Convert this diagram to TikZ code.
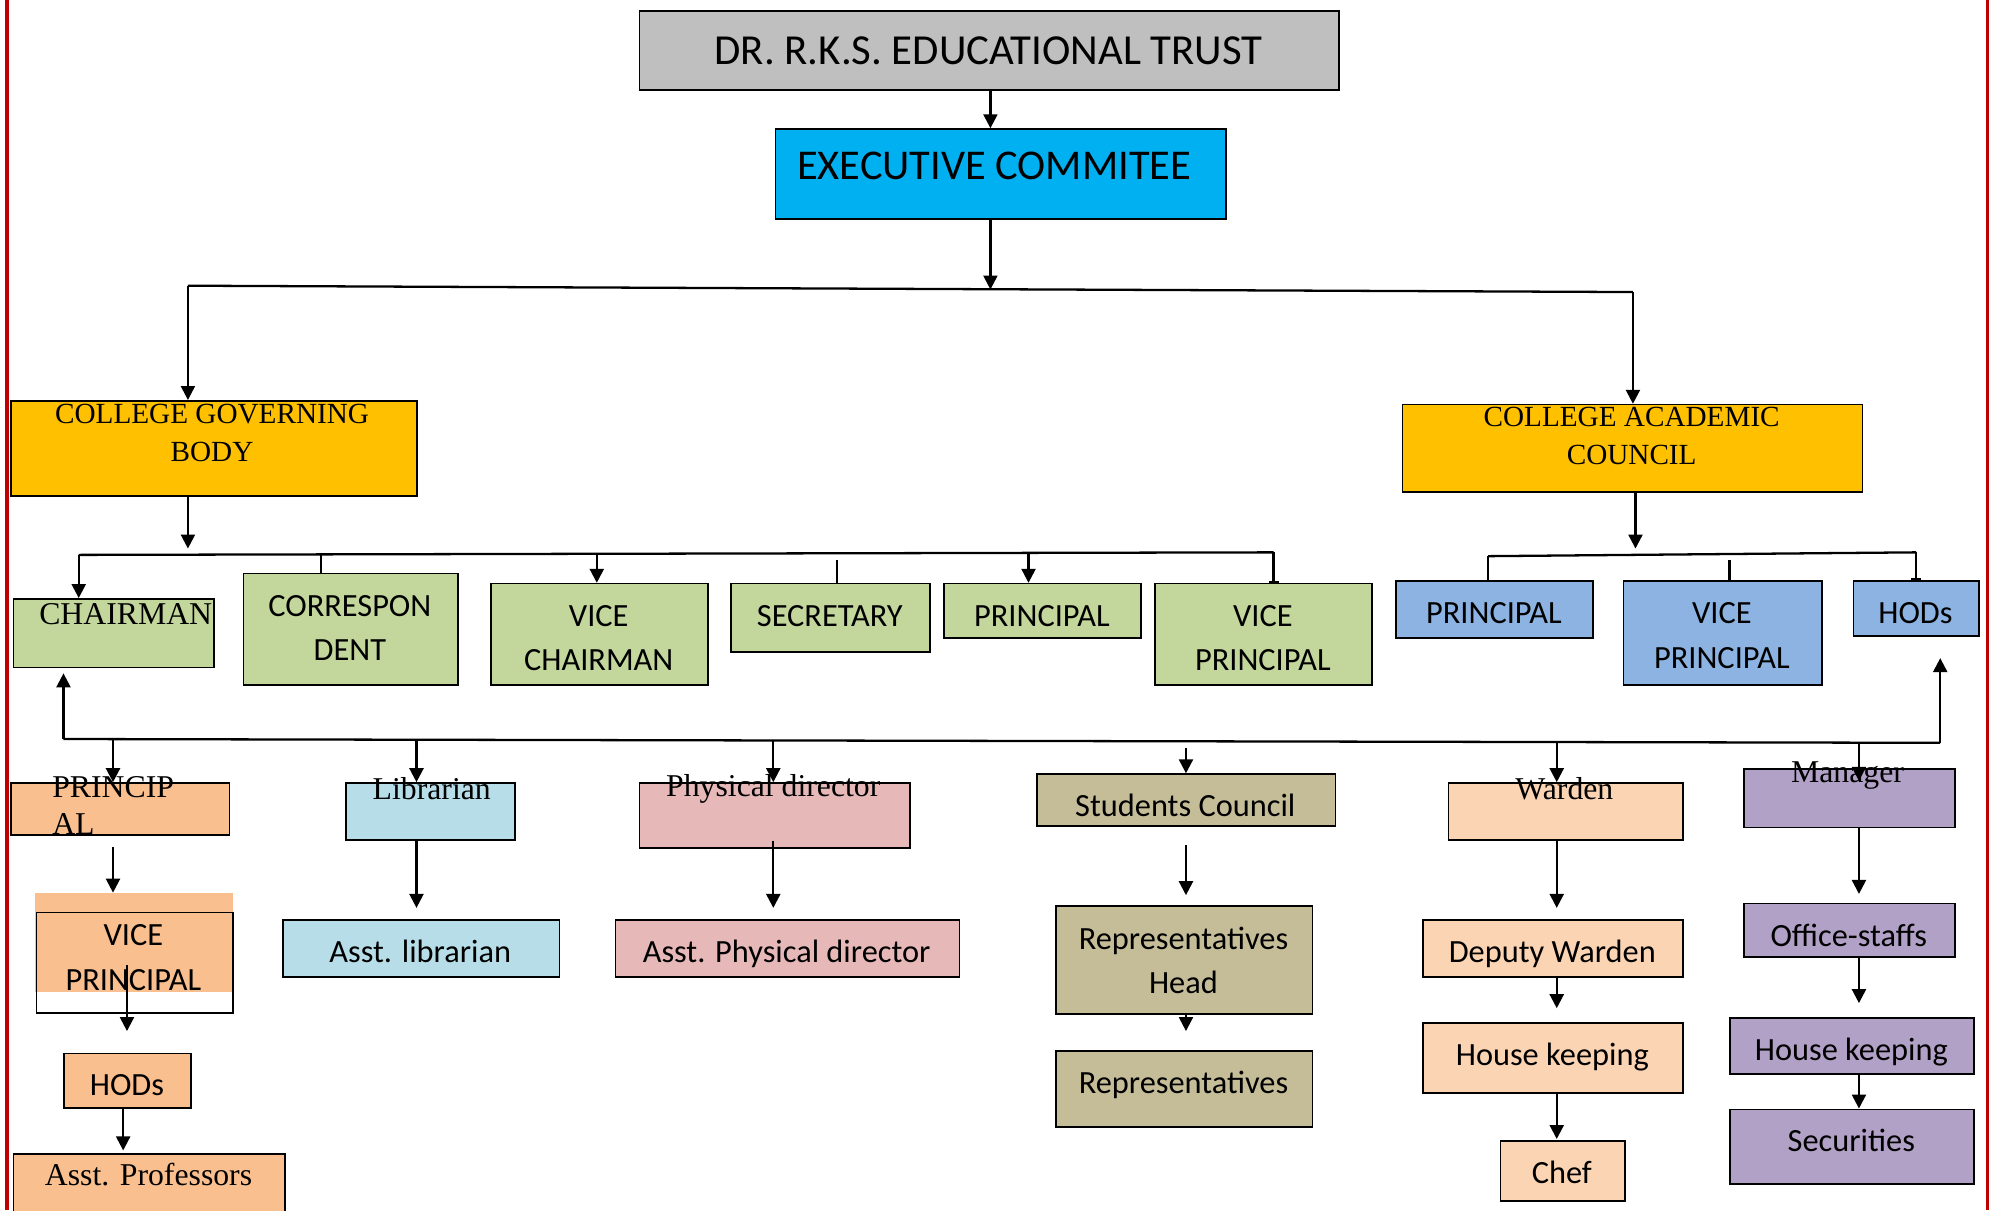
\documentclass[tikz,border=0pt]{standalone}
\usepackage{fontspec}
\setmainfont{Carlito}
\newfontfamily\tms{Liberation Serif}
\usetikzlibrary{arrows.meta}
\definecolor{cgray}{HTML}{BFBFBF}
\definecolor{ccyan}{HTML}{00B0F0}
\definecolor{cgold}{HTML}{FFC000}
\definecolor{cgreen}{HTML}{C3D69B}
\definecolor{cblue}{HTML}{8DB3E2}
\definecolor{corange}{HTML}{FABF8F}
\definecolor{clblue}{HTML}{B7DEE8}
\definecolor{cpink}{HTML}{E6B9B8}
\definecolor{ctan}{HTML}{C4BD97}
\definecolor{cpeach}{HTML}{FBD4B4}
\definecolor{cpurple}{HTML}{B2A1C7}
\definecolor{cred}{HTML}{C00000}
% box with one line of text near its top
\newcommand\bxone[7]{%
  \node[box, fill=#6, minimum width=#4pt, minimum height=#5pt] (#1) at (#2,#3) {};
  \node[txt] (#1t) at ({#2+#4/2},{#3+26}) {#7};}
% box with two lines of text
\newcommand\bxtwo[7]{%
  \node[box, fill=#6, minimum width=#4pt, minimum height=#5pt] (#1) at (#2,#3) {};
  \node[txtt] (#1t) at ({#2+#4/2},{#3+43.5}) {#7};}
\begin{document}
\begin{tikzpicture}[x=1pt,y=-1pt,
  box/.style={draw=black, line width=1.3pt, rectangle, inner sep=0pt, anchor=north west},
  tbox/.style={inner sep=0pt, font=\tms\fontsize{25}{30}\selectfont, align=center},
  txt/.style={inner sep=0pt, font=\fontsize{25.5}{35}\selectfont, text height=16.1pt, text depth=0pt},
  txtt/.style={inner sep=0pt, font=\fontsize{25.5}{35}\selectfont, align=center},
  conn/.style={line width=1.8pt},
  arr/.style={conn, -{Triangle[width=11pt,length=11pt]}},
  bar/.style={conn, -{Bar[width=8pt,line width=1.5pt]}}
]
\clip (0,0) rectangle (1568,953);
\fill[white] (0,0) rectangle (1568,953);
\draw[cred, line width=2.4pt] (5.5,0) -- (5.5,953);
\draw[cred, line width=2.4pt] (1565,0) -- (1565,953);

% top
\node[box, fill=cgray, minimum width=551pt, minimum height=62pt] (trust) at (503,8) {};
\node[txt, font=\fontsize{33.7}{40}\selectfont, text height=21.3pt] (trustt) at (778.5,40) {DR. R.K.S. EDUCATIONAL TRUST};
\node[box, fill=ccyan, minimum width=355pt, minimum height=71pt] (exec) at (610,101) {};
\node[txt, font=\fontsize{33.4}{40}\selectfont, text height=21.1pt] (exect) at (783,131) {EXECUTIVE COMMITEE};

\node[box, fill=cgold, minimum width=320pt, minimum height=75pt] (gov) at (8,315) {};
\node[tbox, font=\tms\fontsize{23}{30}\selectfont] (govt) at (167,341) {COLLEGE GOVERNING\\BODY};
\node[box, fill=cgold, minimum width=362pt, minimum height=69pt] (acad) at (1104,318) {};
\node[tbox, font=\tms\fontsize{23}{30}\selectfont] (acadt) at (1285,343) {COLLEGE ACADEMIC\\COUNCIL};

% green row
\node[box, fill=cgreen, minimum width=158pt, minimum height=54pt] (chair) at (10,471) {};
\node[tbox] (chairt) at (99,484) {CHAIRMAN};
\bxtwo{corr}{191}{451}{169}{88}{cgreen}{CORRESPON\\DENT}
\bxtwo{vchair}{386}{459}{171}{80}{cgreen}{VICE\\CHAIRMAN}
\bxone{secr}{575}{459}{157}{54}{cgreen}{SECRETARY}
\bxone{gprinc}{743}{459}{155}{43}{cgreen}{PRINCIPAL}
\bxtwo{gvprinc}{909}{459}{171}{80}{cgreen}{VICE\\PRINCIPAL}

% blue row
\bxone{aprinc}{1099}{457}{155}{45}{cblue}{PRINCIPAL}
\bxtwo{avprinc}{1278}{457}{156}{82}{cblue}{VICE\\PRINCIPAL}
\bxone{ahods}{1459}{457}{99}{43}{cblue}{HODs}

% principal column
\node[box, fill=corange, minimum width=172pt, minimum height=41pt] (oprinc) at (8,616) {};
\node[tbox, anchor=west] (oprinct1) at (41,620) {PRINCIP};
\node[tbox, anchor=west] (oprinct2) at (41,649) {AL};
\node[fill=corange, inner sep=0pt, anchor=north west, minimum width=156pt, minimum height=78pt] (ovpbg) at (27,703) {};
\node[box, minimum width=155pt, minimum height=79pt] (ovp) at (28,718) {};
\node[txtt] (ovpt) at (105,754) {VICE\\PRINCIPAL};
\bxone{ohods}{50}{829}{100}{43}{corange}{HODs}
\node[box, fill=corange, minimum width=214pt, minimum height=60pt] (oasst) at (10,908) {};
\node[tbox] (oasstt) at (117,925) {Asst. Professors};

% librarian column
\node[box, fill=clblue, minimum width=133pt, minimum height=45pt] (lib) at (272,616) {};
\node[tbox] (libt) at (340,621) {Librarian};
\bxone{alib}{222}{724}{218}{45}{clblue}{Asst. librarian}

% physical director column
\node[box, fill=cpink, minimum width=213pt, minimum height=51pt] (phys) at (503,616) {};
\node[tbox] (physt) at (609,621) {Physical director};
\bxone{aphys}{484}{724}{271}{45}{cpink}{Asst. Physical director}

% students column
\bxone{stud}{816}{609}{235}{41}{ctan}{Students Council}
\bxtwo{rhead}{831}{713}{202}{85}{ctan}{Representatives\\Head}
\bxone{reps}{831}{827}{202}{60}{ctan}{Representatives}

% warden column
\node[box, fill=cpeach, minimum width=185pt, minimum height=45pt] (warden) at (1140,616) {};
\node[tbox] (wardent) at (1232,621) {Warden};
\bxone{dwarden}{1120}{724}{205}{45}{cpeach}{Deputy Warden}
\bxone{hkp}{1120}{805}{205}{55}{cpeach}{House keeping}
\bxone{chef}{1181}{898}{98}{47}{cpeach}{Chef}

% manager column
\node[box, fill=cpurple, minimum width=166pt, minimum height=46pt] (mgr) at (1373,605) {};
\node[tbox] (mgrt) at (1455,611) {Manager};
\bxone{ostaff}{1373}{711}{166}{42}{cpurple}{Office-staffs}
\bxone{hku}{1362}{801}{192}{44}{cpurple}{House keeping}
\bxone{secu}{1362}{873}{192}{59}{cpurple}{Securities}

% connectors: top
\coordinate (tbL) at (148,225);
\coordinate (tbM) at (780,228);
\coordinate (tbR) at (1286,230);
\draw[arr] (tbM |- trust.south) -- (tbM |- exec.north);
\draw[conn] (tbL) -- (tbR);
\draw[arr] (tbM |- exec.south) -- (tbM);
\draw[arr] (tbL) -- (tbL |- gov.north);
\draw[arr] (tbR) -- (tbR |- acad.north);

% governing bus
\coordinate (gbL) at (62,437);
\coordinate (gbM) at (148,436);
\coordinate (gbR) at (1003,435);
\draw[arr, shorten >=4pt] (gbM |- gov.south) -- (gbM);
\draw[conn] (gbL) -- (gbR);
\draw[arr] (gbL) -- (gbL |- chair.north);
\coordinate (g2) at (253,436);
\draw[conn] (g2) -- (g2 |- corr.north);
\coordinate (g3) at (470,436);
\draw[arr] (g3) -- (g3 |- vchair.north);
\coordinate (g4) at (659,441);
\draw[conn] (g4) -- (g4 |- secr.north);
\coordinate (g5) at (810,436);
\draw[arr] (g5) -- (g5 |- gprinc.north);
\draw[bar] (gbR) -- (gbR |- gvprinc.north);

% academic bus
\coordinate (abM) at (1288,437);
\coordinate (abL) at (1172,438);
\coordinate (abR) at (1509,435);
\draw[arr, shorten >=5pt] (abM |- acad.south) -- (abM);
\draw[conn] (abL) -- (abR);
\draw[conn] (abL) -- (abL |- aprinc.north);
\coordinate (a2) at (1362,441);
\draw[conn] (a2) -- (a2 |- avprinc.north);
\draw[bar] (abR) -- (abR |- ahods.north);

% bottom bus
\coordinate (bbL) at (50,582);
\coordinate (bbR) at (1528,585);
\draw[conn] (bbL) -- (bbR);
\draw[arr, shorten >=4pt] (bbL) -- (bbL |- chair.south);
\draw[arr, shorten >=17pt] (bbR) -- (bbR |- ahods.south);
\coordinate (b1) at (89,582);
\coordinate (b2) at (328,583);
\coordinate (b3) at (609,583);
\coordinate (b4) at (934,589);
\coordinate (b5) at (1226,584);
\coordinate (b6) at (1464,585);
\draw[arr] (b1) -- (b1 |- oprinc.north);
\draw[arr] (b2) -- (b2 |- lib.north);
\draw[arr] (b3) -- (b3 |- phys.north);
\draw[arr] (b4) -- (b4 |- stud.north);
\draw[arr] (b5) -- (b5 |- warden.north);
\draw[arr, shorten >=-10pt] (b6) -- (b6 |- mgr.north);

% columns
\draw[arr, shorten <=9pt] (b1 |- oprinc.south) -- (b1 |- ovpbg.north);
\coordinate (c1) at (100,760);
\draw[arr, shorten >=17pt] (c1) -- (c1 |- ohods.north);
\coordinate (c2) at (97,872);
\draw[arr, shorten >=2pt] (c2 |- ohods.south) -- (c2 |- oasst.north);
\draw[arr, shorten >=9pt] (b2 |- lib.south) -- (b2 |- alib.north);
\coordinate (c3) at (609,662);
\draw[arr, shorten >=9pt] (c3) -- (c3 |- aphys.north);
\draw[arr, shorten <=14pt, shorten >=8pt] (b4 |- stud.south) -- (b4 |- rhead.north);
\draw[arr, shorten >=15pt] (b4 |- rhead.south) -- (b4 |- reps.north);
\draw[arr, shorten >=9pt] (b5 |- warden.south) -- (b5 |- dwarden.north);
\draw[arr, shorten >=11pt] (b5 |- dwarden.south) -- (b5 |- hkp.north);
\draw[arr, shorten >=1pt] (b5 |- hkp.south) -- (b5 |- chef.north);
\draw[arr, shorten >=7pt] (b6 |- mgr.south) -- (b6 |- ostaff.north);
\draw[arr, shorten >=11pt] (b6 |- ostaff.south) -- (b6 |- hku.north);
\draw[arr] (b6 |- hku.south) -- (b6 |- secu.north);
\end{tikzpicture}
\end{document}
